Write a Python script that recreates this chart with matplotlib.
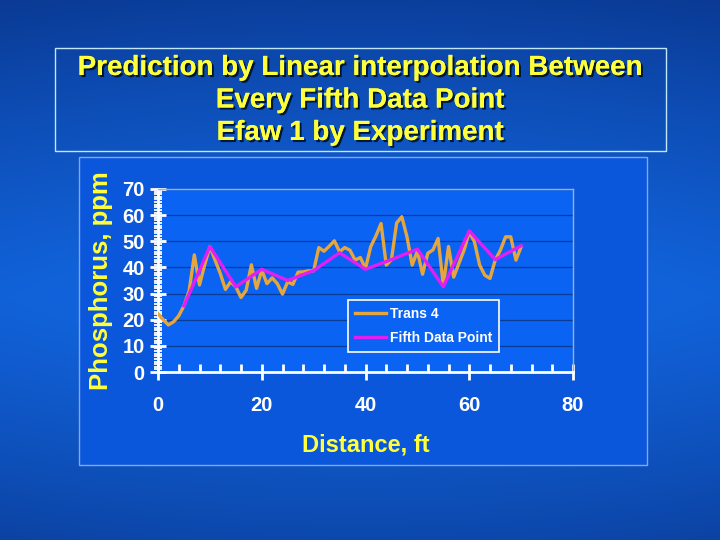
import numpy as np
import matplotlib
matplotlib.use("Agg")
import matplotlib.pyplot as plt
import matplotlib.patheffects as pe
from matplotlib.patches import Rectangle

plt.rcParams['font.family'] = ['Liberation Sans', 'DejaVu Sans']
plt.rcParams['font.weight'] = 'bold'

# Trans 4: one reading per foot, 0..70 ft
trans_x = list(range(0, 71))
trans_y = [22.3, 20, 18, 19.2, 21.5, 25.3, 31, 44.8, 33.3, 41, 48,
           42.8, 37.7, 31.6, 34.5, 32.6, 28.5, 31.3, 41, 32, 39,
           33.8, 36, 33.8, 29.8, 34.5, 33.5, 38.2, 38.3, 38.7, 38.7,
           47.6, 46.2, 48.1, 50.2, 46, 47.6, 46.6, 42.8, 43.8, 39.6,
           47.9, 52, 56.8, 40.9, 43, 57, 59.4, 51.7, 40.9, 46.3,
           37.4, 45.4, 46.7, 51.1, 33, 48, 36.3, 41.5, 46.6, 53.6,
           49.8, 40.9, 37, 35.8, 42.8, 46.6, 51.7, 51.7, 42.8, 47.9]

# every fifth data point, linearly joined
fifth_x = list(range(5, 71, 5))
fifth_y = [25.3, 48, 32.6, 39.3, 35, 38.8, 45.6, 39.3, 43, 47, 32.6, 54, 43, 48.3]

title_lines = ["Prediction by Linear interpolation Between",
               "Every Fifth Data Point",
               "Efaw 1 by Experiment"]

fig = plt.figure(figsize=(7.2, 5.4), dpi=100)

# blue slide background: brighter in the middle, darker at the edges
bg = fig.add_axes([0, 0, 1, 1], zorder=-10)
yy, xx = np.mgrid[0:1:300j, 0:1:400j]
shade = 1 - 0.9 * np.abs(yy - 0.55) ** 1.3 * 1.6 - 0.35 * np.abs(xx - 0.5) ** 2
shade = np.clip(shade, 0, 1)
dark = np.array([0.03, 0.17, 0.48])
bright = np.array([0.07, 0.40, 0.88])
img = dark + (bright - dark) * shade[..., None]
bg.imshow(img, aspect='auto', extent=[0, 1, 0, 1], origin='upper')
bg.set_axis_off()

yellow = '#ffff3c'
shadow = [pe.withSimplePatchShadow(offset=(1.5, -1.5), shadow_rgbFace='black', alpha=0.7), pe.Normal()]

# title box
fig.patches.append(Rectangle((55 / 720, 1 - 151 / 540), 611 / 720, 103 / 540,
                             transform=fig.transFigure, fill=False,
                             edgecolor='#bfe8ff', linewidth=1.0, zorder=-5))
for i, line in enumerate(title_lines):
    fig.text(0.5, 1 - (68 + 32.5 * i) / 540, line, ha='center', va='center',
             fontsize=20, color=yellow, fontweight='bold', path_effects=shadow)

# chart panel
fig.patches.append(Rectangle((79 / 720, 1 - 465 / 540), 568 / 720, 308 / 540,
                             transform=fig.transFigure, facecolor='#0b57dc',
                             edgecolor='#7fa8ee', linewidth=1.0, zorder=-5))

ax = fig.add_axes([158 / 720, 1 - 372 / 540, 415 / 720, 183 / 540])
ax.set_facecolor('#0a63f2')

ax.plot(trans_x, trans_y, color='#e6a63e', linewidth=2.4, label='Trans 4', zorder=3)
ax.plot(fifth_x, fifth_y, color='#e11ff2', linewidth=2.4, label='Fifth Data Point', zorder=4)

ax.set_xlim(0, 80)
ax.set_ylim(0, 70)
ax.set_xticks(range(0, 81, 20))
ax.set_xticks(range(0, 81, 4), minor=True)
ax.set_yticks(range(0, 71, 10))
ax.set_yticks(range(0, 71, 1), minor=True)

ax.grid(True, axis='y', which='major', color='#0a3c96', linewidth=0.9)
ax.set_axisbelow(True)

for side in ['top', 'right']:
    ax.spines[side].set_color('#9ab0cc')
    ax.spines[side].set_linewidth(1.0)
for side in ['left', 'bottom']:
    ax.spines[side].set_color('white')
    ax.spines[side].set_linewidth(2.0)

ax.tick_params(axis='both', which='major', direction='inout', length=11, width=2,
               color='white', labelcolor='white', labelsize=14.5)
ax.tick_params(axis='y', which='minor', direction='inout', length=6, width=1.3, color='white')
ax.tick_params(axis='x', which='minor', direction='in', length=6, width=2, color='white')
ax.tick_params(axis='x', which='major', pad=12)
ax.tick_params(axis='y', which='major', pad=4)
for lab in ax.get_xticklabels() + ax.get_yticklabels():
    lab.set_fontweight('bold')

ax.set_xlabel('Distance, ft', fontsize=17, color=yellow, fontweight='bold', labelpad=13)
ax.set_ylabel('Phosphorus, ppm', fontsize=18.5, color=yellow, fontweight='bold', labelpad=7)

leg = ax.legend(loc='lower left', bbox_to_anchor=(0.458, 0.109), fontsize=10,
                frameon=True, fancybox=False, handlelength=2.2, borderpad=0.5,
                labelspacing=0.75, handletextpad=0.3, borderaxespad=0)
leg.get_frame().set_facecolor('#0a63f2')
leg.get_frame().set_edgecolor('white')
leg.get_frame().set_linewidth(1.2)
leg.get_frame().set_alpha(1)
for t in leg.get_texts():
    t.set_color('white')
    t.set_fontweight('bold')

fig.savefig('out.png', dpi=100)
